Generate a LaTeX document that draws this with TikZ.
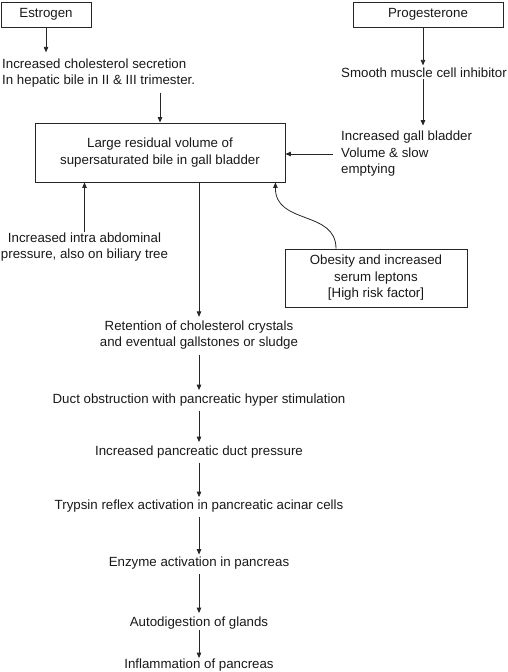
\documentclass[tikz,border=0pt]{standalone}
\usepackage{fontspec}
\setmainfont{Liberation Sans}
\usetikzlibrary{arrows.meta}
\begin{document}
\begin{tikzpicture}[x=1pt,y=-1pt,
  every node/.style={font=\fontsize{13.3}{16.5}\selectfont, inner sep=0pt, text=black!90},
  box/.style={draw=black!85, line width=0.9pt},
  txt/.style={align=center},
  arr/.style={-{Triangle[length=5.5pt,width=4.5pt]}, line width=0.8pt, draw=black!85}]
\useasboundingbox (0,0) rectangle (507,672);

\node[box, minimum width=90pt, minimum height=25pt] (est) at (46,14.5) {Estrogen};
\node[box, minimum width=150pt, minimum height=25pt] (prog) at (428,14.5) {Progesterone};
\node[box, minimum width=250pt, minimum height=59pt, align=center] (big) at (160,152.5)
  {Large residual volume of\\supersaturated bile in gall bladder};
\node[box, minimum width=182pt, minimum height=58pt, align=center] (ob) at (376,278)
  {Obesity and increased\\serum leptons\\{[High risk factor]}};

\node[anchor=west, align=left] (cs) at (2,73)
  {Increased cholesterol secretion\\In hepatic bile in II \& III trimester.};
\node[anchor=west] (smi) at (341,73) {Smooth muscle cell inhibitor};
\node[anchor=west, align=left] (gbv) at (341,154)
  {Increased gall bladder\\Volume \& slow\\emptying};
\node[txt] (iap) at (84.5,247) {Increased intra abdominal\\pressure, also on biliary tree};

\node[txt] (ret) at (199,335) {Retention of cholesterol crystals\\and eventual gallstones or sludge};
\node[txt] (duct) at (199,400) {Duct obstruction with pancreatic hyper stimulation};
\node[txt] (idp) at (199,452) {Increased pancreatic duct pressure};
\node[txt] (tryp) at (199,506) {Trypsin reflex activation in pancreatic acinar cells};
\node[txt] (enz) at (199,563) {Enzyme activation in pancreas};
\node[txt] (auto) at (199,623) {Autodigestion of glands};
\node[txt] (infl) at (199,665) {Inflammation of pancreas};

\draw[arr, shorten >=6pt] (est.south) -- (est.south |- cs.north);
\draw[arr, shorten <=5pt] (big.north |- cs.south) -- (big.north);
\draw[arr, shorten >=2.5pt] ([xshift=-5pt]prog.south) -- ([xshift=-5pt]prog.south |- smi.north);
\draw[arr, shorten <=1pt, shorten >=5.5pt] ([xshift=-5pt]prog.south |- smi.south) -- ([xshift=-5pt]prog.south |- gbv.north);
\draw[arr, shorten <=8pt] (gbv.west) -- (gbv.west -| big.east);
\draw[arr] (iap.north) -- (iap.north |- big.south);
\draw[arr, shorten >=3.5pt] (ret.north |- big.south) -- (ret.north);
\draw[arr] ([xshift=-40pt]ob.north) .. controls (336,210) and (275,225) .. ([xshift=-10pt]big.south east);

\draw[arr, shorten <=5pt, shorten >=3.5pt] (ret) -- (duct);
\draw[arr, shorten <=4.5pt, shorten >=3.5pt] (duct) -- (idp);
\draw[arr, shorten <=4.5pt, shorten >=2.5pt] (idp) -- (tryp);
\draw[arr, shorten <=4.5pt, shorten >=2pt] (tryp) -- (enz);
\draw[arr, shorten <=5pt, shorten >=3.5pt] (enz) -- (auto);
\draw[arr, shorten <=1pt, shorten >=0.5pt] (auto) -- (infl);
\end{tikzpicture}
\end{document}
